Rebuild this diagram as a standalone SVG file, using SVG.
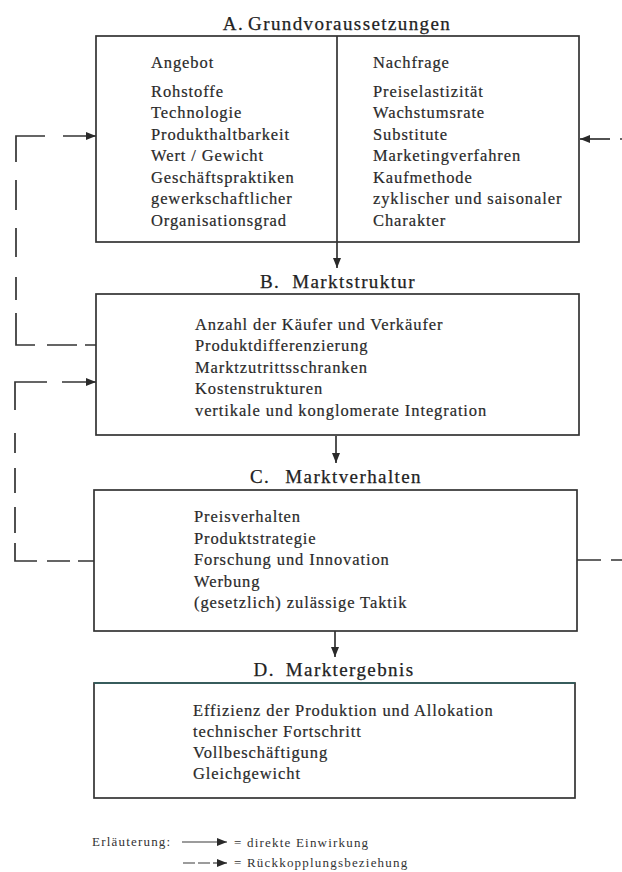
<svg xmlns="http://www.w3.org/2000/svg" width="622" height="872" viewBox="0 0 622 872">
<style>
.box{fill:none;stroke:#333333;stroke-width:1.7}
.ln{fill:none;stroke:#333333;stroke-width:1.7}
.t{font-family:"Liberation Serif","Times New Roman",serif;font-size:16.5px;fill:#2a2a2a;stroke:#2a2a2a;stroke-width:0.2px;letter-spacing:0.9px;word-spacing:0px}
.h{font-family:"Liberation Serif","Times New Roman",serif;font-size:19px;fill:#222222;stroke:#222222;stroke-width:0.25px;letter-spacing:1.4px;text-anchor:middle}
.lg{font-family:"Liberation Serif","Times New Roman",serif;font-size:13px;fill:#333333;letter-spacing:1.2px}
</style>
<defs>
<marker id="ah" markerUnits="userSpaceOnUse" markerWidth="11" markerHeight="9" refX="10" refY="4" orient="auto">
<path d="M0,0 L10,4 L0,8 z" fill="#2a2a2a"/>
</marker>
</defs>
<rect width="622" height="872" fill="#ffffff"/>

<g id="connectors">
<!-- direct arrows -->
<line class="ln" x1="337" y1="242" x2="337" y2="268" marker-end="url(#ah)"/>
<line class="ln" x1="336" y1="436" x2="336" y2="463" marker-end="url(#ah)"/>
<line class="ln" x1="335" y1="631" x2="335" y2="657" marker-end="url(#ah)"/>
<!-- feedback B -> A (left) -->
<path class="ln" d="M96,345 H85 M77,345 H47 M35,345 H16 V313 M16,300 V277 M16,257 V228 M16,210 V180 M16,162 V136 H45"/>
<line class="ln" x1="63" y1="136" x2="96" y2="136" marker-end="url(#ah)"/>
<!-- feedback C -> B (left) -->
<path class="ln" d="M94,561 H78 M70,561 H47 M37,561 H15 V543 M15,533 V507 M15,493 V468 M15,453 V433 M15,410 V382 H47"/>
<line class="ln" x1="62" y1="382" x2="96" y2="382" marker-end="url(#ah)"/>
<!-- feedback C -> A (right, leaves the picture) -->
<path class="ln" d="M577,560 H601 M611,560 H622"/>
<line class="ln" x1="610" y1="139" x2="580" y2="139" marker-end="url(#ah)"/>
<line class="ln" x1="620" y1="139" x2="622" y2="139"/>
</g>

<g id="nodeA">
<text class="h" x="337" y="30">A.<tspan dx="4">Grundvoraussetzungen</tspan></text>
<rect class="box" x="96" y="36" width="483" height="206"/>
<line class="ln" x1="337" y1="36" x2="337" y2="242"/>
<text class="t" x="151" y="67.5">Angebot</text>
<text class="t" x="151" y="96.5">Rohstoffe</text>
<text class="t" x="151" y="118">Technologie</text>
<text class="t" x="151" y="139.5">Produkthaltbarkeit</text>
<text class="t" x="151" y="161">Wert / Gewicht</text>
<text class="t" x="151" y="182.5">Geschäftspraktiken</text>
<text class="t" x="151" y="204">gewerkschaftlicher</text>
<text class="t" x="151" y="225.5">Organisationsgrad</text>
<text class="t" x="373" y="67.5">Nachfrage</text>
<text class="t" x="373" y="96.5">Preiselastizität</text>
<text class="t" x="373" y="118">Wachstumsrate</text>
<text class="t" x="373" y="139.5">Substitute</text>
<text class="t" x="373" y="161">Marketingverfahren</text>
<text class="t" x="373" y="182.5">Kaufmethode</text>
<text class="t" x="373" y="204">zyklischer und saisonaler</text>
<text class="t" x="373" y="225.5">Charakter</text>
</g>

<g id="nodeB">
<text class="h" x="338" y="288">B.<tspan dx="12">Marktstruktur</tspan></text>
<rect class="box" x="96" y="294" width="483" height="141"/>
<text class="t" x="195" y="329.5">Anzahl der Käufer und Verkäufer</text>
<text class="t" x="195" y="351">Produktdifferenzierung</text>
<text class="t" x="195" y="372.5">Marktzutrittsschranken</text>
<text class="t" x="195" y="394">Kostenstrukturen</text>
<text class="t" x="195" y="415.5">vertikale und konglomerate Integration</text>
</g>

<g id="nodeC">
<text class="h" x="336" y="482.5">C.<tspan dx="15">Marktverhalten</tspan></text>
<rect class="box" x="94" y="490" width="483" height="141"/>
<text class="t" x="194" y="522">Preisverhalten</text>
<text class="t" x="194" y="543.5">Produktstrategie</text>
<text class="t" x="194" y="565">Forschung und Innovation</text>
<text class="t" x="194" y="586.5">Werbung</text>
<text class="t" x="194" y="608">(gesetzlich) zulässige Taktik</text>
</g>

<g id="nodeD">
<text class="h" x="334" y="676">D.<tspan dx="11">Marktergebnis</tspan></text>
<rect class="box" x="94" y="683" width="481" height="115"/>
<line x1="94" y1="683" x2="575" y2="683" stroke="#2f6060" stroke-width="1.7"/>
<text class="t" x="193" y="715.5">Effizienz der Produktion und Allokation</text>
<text class="t" x="193" y="736.8">technischer Fortschritt</text>
<text class="t" x="193" y="758">Vollbeschäftigung</text>
<text class="t" x="193" y="779.3">Gleichgewicht</text>
</g>

<g id="legend">
<text class="lg" x="92" y="846">Erläuterung:</text>
<line x1="182" y1="842" x2="227" y2="842" stroke="#3a3a3a" stroke-width="1.2" marker-end="url(#ah)"/>
<text class="lg" x="234" y="847">= direkte Einwirkung</text>
<path d="M183,863 H195 M198,863 H210" stroke="#3a3a3a" stroke-width="1.2" fill="none"/>
<line x1="213" y1="863" x2="227" y2="863" stroke="#3a3a3a" stroke-width="1.2" marker-end="url(#ah)"/>
<text class="lg" x="234" y="867">= Rückkopplungsbeziehung</text>
</g>
</svg>
